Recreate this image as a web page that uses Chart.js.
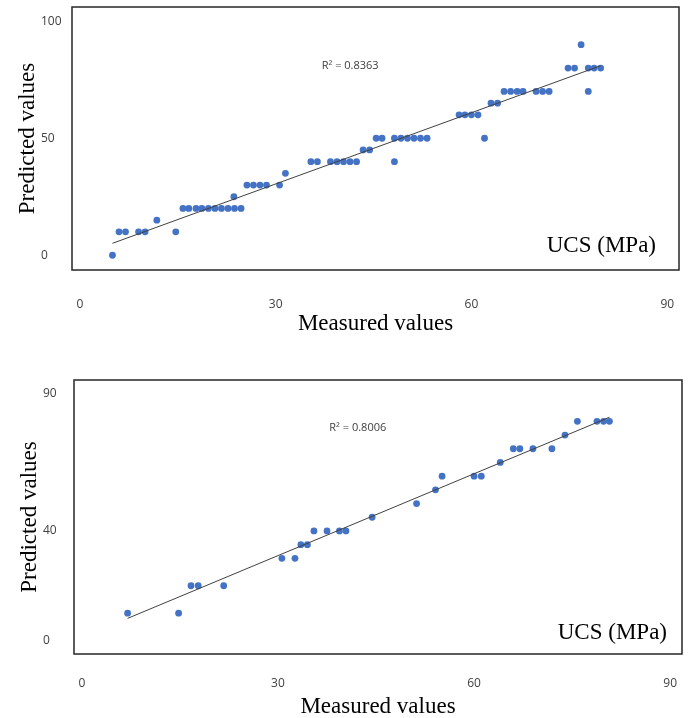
<!DOCTYPE html>
<html>
<head>
<meta charset="utf-8">
<script src="https://cdn.jsdelivr.net/npm/chart.js@4.4.1/dist/chart.umd.min.js"></script>
<style>
  body { margin: 0; background: #fff; }
  canvas { display: block; }
</style>
</head>
<body>
<canvas id="chart-top" width="691" height="345"></canvas>
<canvas id="chart-bottom" width="691" height="373"></canvas>
<script>
// upper panel
const topMeasured = [
    5.0, 6.0, 7.0, 9.0, 10.0, 11.8, 14.7, 15.8, 16.7, 17.8, 18.7, 19.7, 20.7, 21.7, 22.7,
    23.6, 23.7, 24.7, 25.6, 26.6, 27.6, 28.6, 30.6, 31.5, 35.4, 36.4, 38.4, 39.4, 40.4,
    41.4, 42.4, 43.4, 44.4, 45.4, 46.3, 48.2, 48.2, 49.2, 50.2, 51.2, 52.2, 53.2, 58.1,
    59.0, 60.0, 61.0, 62.0, 63.0, 64.0, 65.0, 66.0, 67.0, 67.9, 69.9, 70.9, 71.9, 74.8,
    75.8, 76.8, 77.9, 77.9, 78.8, 79.8
];
const topPredicted = [
    0, 10, 10, 10, 10, 15, 10, 20, 20, 20, 20, 20, 20, 20, 20,
    25, 20, 20, 30, 30, 30, 30, 30, 35, 40, 40, 40, 40, 40,
    40, 40, 45, 45, 50, 50, 40, 50, 50, 50, 50, 50, 50, 60,
    60, 60, 60, 50, 65, 65, 70, 70, 70, 70, 70, 70, 70, 80,
    80, 90, 70, 80, 80, 80
];
const topTrendX = [5.0, 79.8];
const topTrendY = [5.1, 81.0];
const topYTicks = [0, 50, 100];
const topR2 = "R² = 0.8363";

// lower panel
const bottomMeasured = [
    7.0, 14.8, 16.7, 17.8, 21.7, 30.6, 32.6, 33.5, 34.5, 35.5, 37.5, 39.4, 40.4, 44.4,
    51.2, 54.1, 55.1, 60.0, 61.1, 64.0, 66.0, 67.0, 69.0, 71.9, 73.9, 75.8, 78.8, 79.8, 80.7
];
const bottomPredicted = [
    10, 10, 20, 20, 20, 30, 30, 35, 35, 40, 40, 40, 40, 45,
    50, 55, 60, 60, 60, 65, 70, 70, 70, 70, 75, 80, 80, 80, 80
];
const bottomTrendX = [7.0, 80.7];
const bottomTrendY = [8.1, 81.5];
const bottomYTicks = [0, 40, 90];
const bottomR2 = "R² = 0.8006";

const xTicks = [0, 30, 60, 90];
const xTitle = "Measured values";
const yTitle = "Predicted values";
const unitLabel = "UCS (MPa)";

const tickFont = { family: "'Open Sans'", size: 12 };
const titleFont = { family: "'Liberation Serif'", size: 23, lineHeight: 1 };

function pairs(xs, ys) {
    return xs.map((x, i) => ({ x: x, y: ys[i] }));
}

// box round the plot area, R² note and unit label
const framePlugin = {
    id: "frame",
    afterDraw(chart, args, opts) {
        const { ctx, chartArea: a } = chart;
        ctx.save();
        ctx.strokeStyle = "#262626";
        ctx.lineWidth = 1.5;
        ctx.strokeRect(a.left, a.top, a.right - a.left, a.bottom - a.top);

        ctx.fillStyle = "#404040";
        ctx.font = "11px 'Open Sans'";
        ctx.textAlign = "left";
        ctx.textBaseline = "alphabetic";
        ctx.fillText(opts.r2, a.left + opts.r2At[0], a.top + opts.r2At[1]);

        ctx.fillStyle = "#000";
        ctx.font = "23px 'Liberation Serif'";
        ctx.textAlign = "right";
        ctx.fillText(opts.unit, a.right - opts.unitAt[0], a.bottom - opts.unitAt[1]);
        ctx.restore();
    }
};

function makeChart(id, cfg) {
    return new Chart(document.getElementById(id), {
        type: "scatter",
        plugins: [framePlugin],
        data: {
            datasets: [
                {
                    data: pairs(cfg.trendX, cfg.trendY),
                    showLine: true,
                    borderColor: "#404040",
                    borderWidth: 1,
                    pointRadius: 0
                },
                {
                    data: pairs(cfg.measured, cfg.predicted),
                    pointRadius: 3.4,
                    pointBorderWidth: 0,
                    backgroundColor: "#4472C4",
                    borderColor: "#4472C4"
                }
            ]
        },
        options: {
            responsive: false,
            animation: false,
            layout: { padding: cfg.padding },
            scales: {
                x: {
                    min: cfg.xRange[0],
                    max: cfg.xRange[1],
                    grid: { display: false, drawTicks: false },
                    border: { display: false },
                    afterBuildTicks: (scale) => { scale.ticks = xTicks.map(v => ({ value: v })); },
                    afterFit: (scale) => {
                        scale.height = cfg.xHeight;
                        scale.paddingLeft = 0;
                        scale.paddingRight = 0;
                    },
                    ticks: { font: tickFont, color: "#404040", padding: cfg.xTickPad },
                    title: {
                        display: true,
                        text: xTitle,
                        font: titleFont,
                        color: "#000",
                        padding: { top: 0, bottom: cfg.xTitlePad }
                    }
                },
                y: {
                    min: cfg.yRange[0],
                    max: cfg.yRange[1],
                    grid: { display: false, drawTicks: false },
                    border: { display: false },
                    afterBuildTicks: (scale) => { scale.ticks = cfg.yTicks.map(v => ({ value: v })); },
                    afterFit: (scale) => {
                        scale.width = 31;
                        scale.paddingTop = 0;
                        scale.paddingBottom = 0;
                    },
                    ticks: { font: tickFont, color: "#404040", crossAlign: "far" },
                    title: {
                        display: true,
                        text: yTitle,
                        font: titleFont,
                        color: "#000",
                        padding: { top: -24.5, bottom: 0 }
                    }
                }
            },
            plugins: {
                legend: { display: false },
                tooltip: { enabled: false },
                frame: { r2: cfg.r2, r2At: cfg.r2At, unit: unitLabel, unitAt: cfg.unitAt }
            }
        }
    });
}

const topChart = makeChart("chart-top", {
    measured: topMeasured,
    predicted: topPredicted,
    trendX: topTrendX,
    trendY: topTrendY,
    yTicks: topYTicks,
    xRange: [-1.2, 91.8],
    yRange: [-6.3, 106.1],
    padding: { left: 41, top: 7, right: 12, bottom: 0 },
    xHeight: 75,
    xTickPad: 27.8,
    xTitlePad: 9.5,
    r2: topR2,
    r2At: [249.7, 61.7],
    unitAt: [23, 18.3]
});

const bottomChart = makeChart("chart-bottom", {
    measured: bottomMeasured,
    predicted: bottomPredicted,
    trendX: bottomTrendX,
    trendY: bottomTrendY,
    yTicks: bottomYTicks,
    xRange: [-1.2, 91.8],
    yRange: [-4.9, 95.1],
    padding: { left: 43, top: 35, right: 9, bottom: 0 },
    xHeight: 64,
    xTickPad: 22.8,
    xTitlePad: 0,
    r2: bottomR2,
    r2At: [255.3, 50.7],
    unitAt: [15, 14.7]
});
</script>
</body>
</html>
